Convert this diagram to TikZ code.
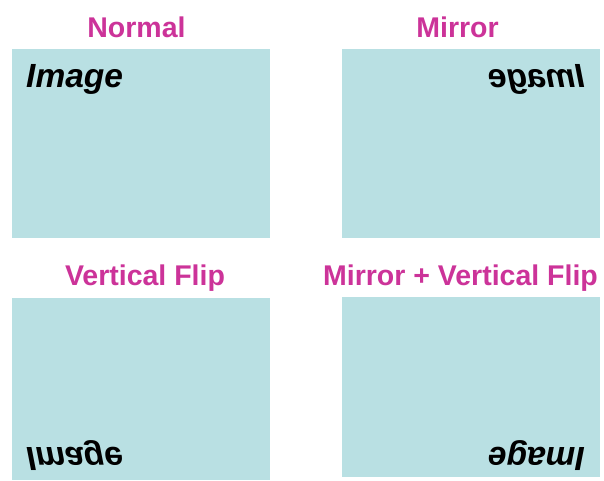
\documentclass[tikz,border=0pt]{standalone}
\usepackage{fontspec}
\usepackage{graphicx}
\setmainfont{Liberation Sans}
\definecolor{boxblue}{RGB}{185,224,227}
\definecolor{titlemag}{RGB}{204,51,153}
\tikzset{
  panel/.style={fill=boxblue, draw=none},
  paneltitle/.style={text=titlemag, font=\fontsize{28.5}{30}\selectfont\bfseries, inner sep=0pt, anchor=base},
  imglabel/.style={text=black, font=\fontsize{33.5}{35}\selectfont\bfseries\itshape, inner sep=0pt}
}
\begin{document}
\begin{tikzpicture}[x=1pt,y=-1pt]
\useasboundingbox (0,0) rectangle (604,480);
\fill[white] (0,0) rectangle (604,480);
% panels
\path[panel] (12,49) rectangle (270,238);
\path[panel] (342,49) rectangle (600,238);
\path[panel] (12,298) rectangle (270,480);
\path[panel] (342,297) rectangle (600,477);
% titles
\node[paneltitle] (tnormal) at (136.5,37) {Normal};
\node[paneltitle] (tmirror) at (457.5,37) {Mirror};
\node[paneltitle] (tvflip) at (145,285) {Vertical Flip};
\node[paneltitle] (tmvflip) at (460.5,285) {Mirror + Vertical Flip};
% image labels
\node[imglabel, anchor=base west] (inormal) at (26,87) {Image};
\node[imglabel, anchor=base east] (imirror) at (585,87) {\reflectbox{Image}};
\node[imglabel, anchor=base west] (ivflip) at (26,447) {\scalebox{1}[-1]{Image}};
\node[imglabel, anchor=base west, rotate=180] (imvflip) at (585,447) {Image};
\end{tikzpicture}
\end{document}
